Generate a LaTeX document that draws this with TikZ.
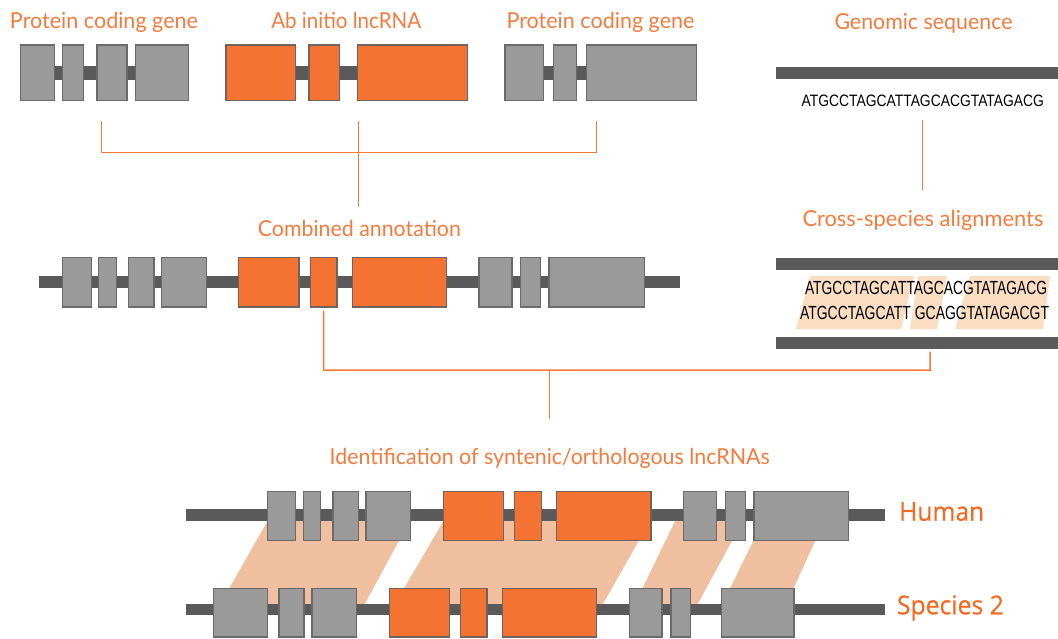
\documentclass[tikz,border=0pt]{standalone}
\usepackage{fontspec}
\usepackage{graphicx}
\newfontfamily\tfont{Lato}
\newfontfamily\hfont[FakeBold=0.5]{Open Sans}
\newfontfamily\sqfont{Liberation Sans}
\definecolor{orng}{HTML}{F47232}
\definecolor{oedge}{HTML}{70625C}
\definecolor{boxgray}{HTML}{9A9A9A}
\definecolor{boxedge}{HTML}{6A6A6A}
\definecolor{bargray}{HTML}{5A5A5A}
\definecolor{txtor}{HTML}{F57A3D}
\definecolor{sptxt}{HTML}{F36A22}
\definecolor{linkor}{HTML}{F47A3C}
\definecolor{synpeach}{HTML}{F0BF9F}
\definecolor{hlpeach}{HTML}{FBDDC2}
\pgfdeclarelayer{syn}
\pgfdeclarelayer{bg}
\pgfsetlayers{syn,bg,main}
\newcommand\fitw[2]{\resizebox{#1pt}{\height}{#2}}
\newcommand\bx[6]{%
  \pgfmathsetmacro\myBW{#4-#3}\pgfmathsetmacro\myBH{#6-#5}%
  \node[#2, minimum width=\myBW pt, minimum height=\myBH pt] (#1) at ({(#3+#4)/2},{(#5+#6)/2}) {};}
\tikzset{
  gbox/.style={fill=boxgray, draw=boxedge, line width=1.3pt, inner sep=0pt, outer sep=0pt, rectangle},
  obox/.style={fill=orng, draw=oedge, line width=1.3pt, inner sep=0pt, outer sep=0pt, rectangle},
  bar/.style={draw=bargray, line width=#1},
  bar/.default=12pt,
  link/.style={draw=linkor, line width=1.5pt},
  title/.style={text=txtor, font=\tfont\fontsize{22}{26}\selectfont, inner sep=0pt, anchor=base},
  species/.style={text=sptxt, font=\hfont\fontsize{26}{30}\selectfont, inner sep=0pt, anchor=base west},
  seqtext/.style={text=black, font=\sqfont\fontsize{#1}{20}\selectfont, inner sep=0pt, anchor=base},
  syn/.style={fill=synpeach},
  hl/.style={fill=hlpeach},
}
\begin{document}
\begin{tikzpicture}[x=1pt,y=-1pt]
\useasboundingbox (0,0) rectangle (1058,638);

% ---------- titles ----------
\node[title] (tpc1) at (104,28.5) {\fitw{188}{Protein coding gene}};
\node[title] (tab) at (346.3,28.5) {\fitw{150}{Ab initio lncRNA}};
\node[title] (tpc2) at (600.5,28.5) {\fitw{188}{Protein coding gene}};
\node[title] (tgs) at (923.5,29) {\fitw{178}{Genomic sequence}};
\node[title] (tca) at (359.4,236.7) {\fitw{203}{Combined annotation}};
\node[title] (tcs) at (923,226) {\fitw{241}{Cross-species alignments}};
\node[title] (tid) at (549.7,464) {\fitw{440}{Identification of syntenic/orthologous lncRNAs}};
\node[species] (thu) at (899,520.7) {\fitw{85}{Human}};
\node[species] (tsp) at (896.7,614.3) {\fitw{107}{Species 2}};

% ---------- top genes ----------
\bx{g1a}{gbox}{20.7}{54.3}{45}{100.5}
\bx{g1b}{gbox}{62.7}{83.3}{45}{100.5}
\bx{g1c}{gbox}{97}{127}{45}{100.5}
\bx{g1d}{gbox}{135.7}{188.3}{45}{100.5}
\bx{l1a}{obox}{226}{295.7}{45}{100.5}
\bx{l1b}{obox}{309}{339.7}{45}{100.5}
\bx{l1c}{obox}{357.7}{467.3}{45}{100.5}
\bx{g2a}{gbox}{505}{543.3}{45}{100.5}
\bx{g2b}{gbox}{553.3}{576.7}{45}{100.5}
\bx{g2c}{gbox}{586.7}{696.7}{45}{100.5}
\begin{pgfonlayer}{bg}
\draw[bar=14.5pt] (g1a.center) -- (g1d.center);
\draw[bar=14.5pt] (l1a.center) -- (l1c.center);
\draw[bar=14.5pt] (g2a.center) -- (g2c.center);
\end{pgfonlayer}

% ---------- genomic sequence ----------
\coordinate (gsL) at (776,73); \coordinate (gsR) at (1058,73);
\draw[bar=12.6pt] (gsL) -- (gsR);
\node[seqtext=16.5] (gseq) at (922.8,106) {\fitw{242.3}{ATGCCTAGCATTAGCACGTATAGACG}};

% ---------- combined annotation ----------
\coordinate (cL) at (38.8,281.5); \coordinate (cR) at (680,281.5);
\begin{pgfonlayer}{bg}\draw[bar] (cL) -- (cR);\end{pgfonlayer}
\bx{c1}{gbox}{62.5}{91.5}{257.7}{307}
\bx{c2}{gbox}{98.7}{116.5}{257.7}{307}
\bx{c3}{gbox}{128.6}{154}{257.7}{307}
\bx{c4}{gbox}{161.6}{206.3}{257.7}{307}
\bx{cO1}{obox}{238.8}{299.1}{257.7}{307}
\bx{cO2}{obox}{310.3}{337}{257.7}{307}
\bx{cO3}{obox}{352.2}{446.4}{257.7}{307}
\bx{c5}{gbox}{479}{512}{257.7}{307}
\bx{c6}{gbox}{520.5}{540.6}{257.7}{307}
\bx{c7}{gbox}{549}{644.2}{257.7}{307}

% ---------- cross-species alignments ----------
\coordinate (xaL) at (776,264.2); \coordinate (xaR) at (1058,264.2);
\coordinate (xbL) at (776,342.5); \coordinate (xbR) at (1058,342.5);
\draw[bar] (xaL) -- (xaR);
\draw[bar] (xbL) -- (xbR);
\fill[hl] (810,276) -- (914,276) -- (901,329) -- (796,329) -- cycle;
\fill[hl] (918,276) -- (947,276) -- (937,329) -- (910,329) -- cycle;
\fill[hl] (970,276) -- (1050,276) -- (1043,329) -- (955,329) -- cycle;
\node[seqtext=19] (seq1) at (926,294.5) {\fitw{242}{ATGCCTAGCATTAGCACGTATAGACG}};
\node[seqtext=19] (seq2) at (924.5,319.5) {\fitw{249}{ATGCCTAGCATT GCAGGTATAGACGT}};

% ---------- synteny ----------
\begin{pgfonlayer}{syn}
\fill[syn] (271,515) -- (413,515) -- (362,609) -- (217.5,609) -- cycle;
\fill[syn] (447,515) -- (653.5,515) -- (600,609) -- (392,609) -- cycle;
\fill[syn] (678,515) -- (746,515) -- (695,609) -- (632.5,609) -- cycle;
\fill[syn] (766,515) -- (827,515) -- (784,609) -- (720,609) -- cycle;
\end{pgfonlayer}
\coordinate (hL) at (186,515.2); \coordinate (hR) at (885,515.2);
\coordinate (sL) at (186,609); \coordinate (sR) at (885,609);
\begin{pgfonlayer}{bg}
\draw[bar] (hL) -- (hR);
\draw[bar=11pt] (sL) -- (sR);
\end{pgfonlayer}
\bx{h1}{gbox}{267.3}{295.7}{491.7}{540.7}
\bx{h2}{gbox}{303.3}{320.7}{491.7}{540.7}
\bx{h3}{gbox}{333}{358.3}{491.7}{540.7}
\bx{h4}{gbox}{366}{410.7}{491.7}{540.7}
\bx{hO1}{obox}{443.3}{503.3}{491.7}{540.7}
\bx{hO2}{obox}{514.7}{541.3}{491.7}{540.7}
\bx{hO3}{obox}{556.7}{651}{491.7}{540.7}
\bx{h5}{gbox}{683.7}{716.3}{491.7}{540.7}
\bx{h6}{gbox}{725.3}{745.3}{491.7}{540.7}
\bx{h7}{gbox}{754}{848.3}{491.7}{540.7}
\bx{s1}{gbox}{213.3}{267.7}{588.3}{637}
\bx{s2}{gbox}{279}{304}{588.3}{637}
\bx{s3}{gbox}{312}{356.3}{588.3}{637}
\bx{sO1}{obox}{389.3}{449.3}{588.3}{637}
\bx{sO2}{obox}{460.7}{487}{588.3}{637}
\bx{sO3}{obox}{502.7}{596.7}{588.3}{637}
\bx{s4}{gbox}{629.7}{662}{588.3}{637}
\bx{s5}{gbox}{671}{690.7}{588.3}{637}
\bx{s6}{gbox}{721.3}{794}{588.3}{637}

% ---------- connectors ----------
\coordinate (b1) at (101.7,120.7);
\coordinate (b2) at (358.3,120.7);
\coordinate (b3) at (596.7,120.7);
\coordinate (k1) at (101.7,152.7);
\coordinate (k3) at (596.7,152.7);
\coordinate (cTop) at (358.3,206.7);
\draw[link] (b1) -- (k1) -- (k3) -- (b3);
\draw[link] (b2) -- (cTop);
\coordinate (gq1) at (922.3,120);
\coordinate (gq2) at (922.3,190);
\draw[link] (gq1) -- (gq2);
\coordinate (co2) at ([yshift=-4pt]cO2.south);
\coordinate (k4) at (323.7,370);
\coordinate (k5) at (930,370);
\coordinate (xd) at (930,351.7);
\draw[link] (co2) -- (k4) -- (k5) -- (xd);
\coordinate (jn) at (549.3,370);
\coordinate (jd) at (549.3,419);
\draw[link] (jn) -- (jd);
\end{tikzpicture}
\end{document}
